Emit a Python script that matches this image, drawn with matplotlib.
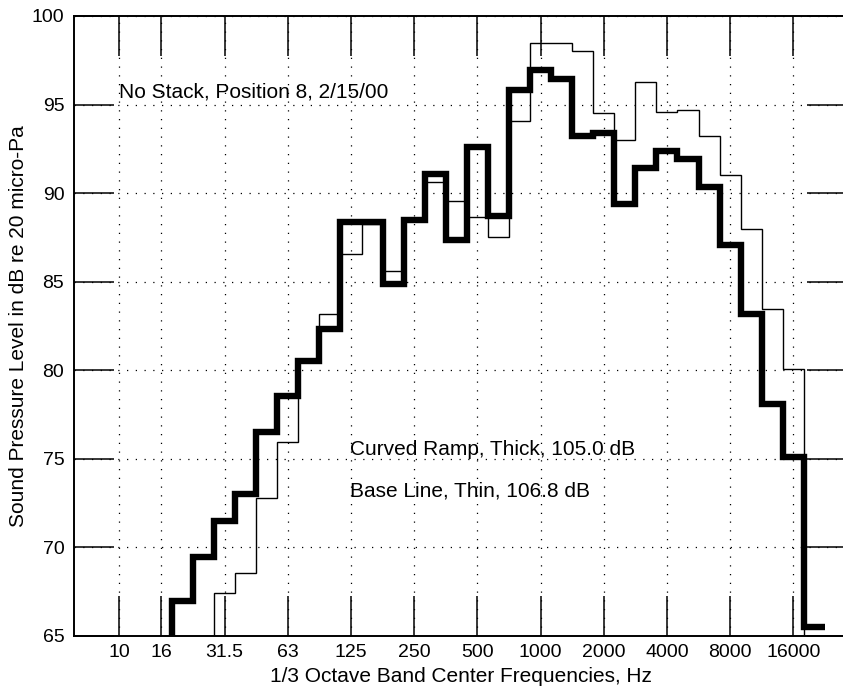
import numpy as np
import matplotlib
matplotlib.use('Agg')
import matplotlib.pyplot as plt

# 1/3 octave band centers, Hz
bands = ['10', '12.5', '16', '20', '25', '31.5', '40', '50', '63', '80',
         '100', '125', '160', '200', '250', '315', '400', '500', '630', '800',
         '1000', '1250', '1600', '2000', '2500', '3150', '4000', '5000', '6300', '8000',
         '10000', '12500', '16000', '20000']
tick_bands = ['10', '16', '31.5', '63', '125', '250', '500', '1000', '2000',
              '4000', '8000', '16000']

# curved ramp (thick), bands 16 Hz .. 20000 Hz
ramp_first = '16'
ramp_spl = [63.0, 67.0, 69.45, 71.5, 73.0, 76.5, 78.55, 80.55, 82.35, 88.35,
            88.35, 84.85, 88.5, 91.1, 87.35, 92.6, 88.7, 95.8, 96.95, 96.45,
            93.25, 93.4, 89.4, 91.4, 92.4, 91.9, 90.35, 87.05, 83.15, 78.1,
            75.1, 65.5]

# base line (thin), bands 25 Hz .. 20000 Hz
base_first = '25'
base_spl = [63.5, 67.45, 68.55, 72.8, 75.95, 80.5, 83.2, 86.55, 88.25, 85.6,
            88.4, 90.65, 89.55, 88.65, 87.5, 94.1, 98.5, 98.5, 98.05, 94.5,
            93.0, 96.3, 94.6, 94.7, 93.25, 91.05, 88.0, 83.45, 80.1, 62.0]


def band_edges(first, n):
    i0 = bands.index(first)
    return np.arange(i0, i0 + n + 1) - 0.5


def draw_spl_chart():
    plt.rcParams['font.family'] = ['Liberation Sans', 'DejaVu Sans']
    fig = plt.figure(figsize=(8.43, 6.90), dpi=100)
    ax = fig.add_axes([74 / 843, 54 / 690, 773 / 843, 620 / 690])

    ax.stairs(ramp_spl, band_edges(ramp_first, len(ramp_spl)), baseline=None,
              color='black', linewidth=4.6, joinstyle='miter', zorder=3)
    ax.stairs(base_spl, band_edges(base_first, len(base_spl)), baseline=None,
              color='black', linewidth=1.0, joinstyle='miter', zorder=4)

    ax.set_xlim(-2.15, 34.55)
    ax.set_ylim(65, 100)
    ax.set_xticks([bands.index(b) for b in tick_bands])
    ax.set_xticklabels(tick_bands)
    ax.set_yticks(np.arange(65, 101, 5))

    ax.tick_params(direction='in', length=29, width=1.1, top=True, right=True,
                   labelsize=14, colors='black')
    ax.tick_params(axis='x', pad=6)
    ax.tick_params(axis='y', pad=7)
    ax.grid(True, color='black', linestyle=(0, (1, 6)), linewidth=0.9)
    for s in ax.spines.values():
        s.set_linewidth(1.4)

    ax.text(0.0, 95.4, 'No Stack, Position 8, 2/15/00', fontsize=15)
    ax.text(10.95, 75.2, 'Curved Ramp, Thick, 105.0 dB', fontsize=15)
    ax.text(10.95, 72.9, 'Base Line, Thin, 106.8 dB', fontsize=15)

    ax.set_xlabel('1/3 Octave Band Center Frequencies, Hz', fontsize=15)
    ax.set_ylabel('Sound Pressure Level in dB re 20 micro-Pa', fontsize=15)
    ax.xaxis.set_label_coords(0.5, -0.05)
    ax.yaxis.set_label_coords(-0.06, 0.5)

    fig.savefig('out.png', dpi=100)
    plt.close(fig)


if __name__ == '__main__':
    draw_spl_chart()
